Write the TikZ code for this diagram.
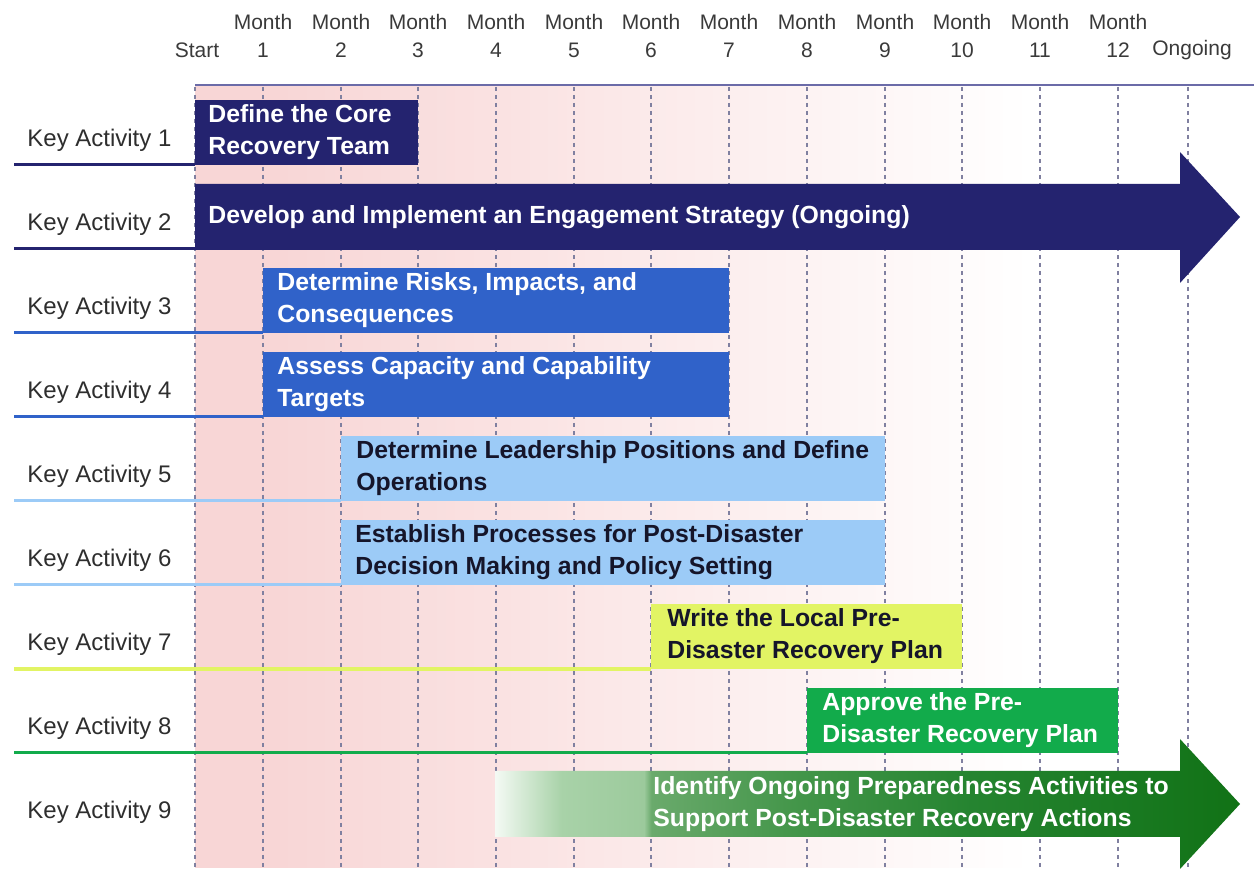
\documentclass[tikz,border=0pt]{standalone}
\usepackage{fontspec}
\setmainfont{Liberation Sans}
\definecolor{navy}{HTML}{24236F}
\definecolor{midblue}{HTML}{3062C9}
\definecolor{lblue}{HTML}{9CCBF7}
\definecolor{ygreen}{HTML}{E2F464}
\definecolor{green}{HTML}{12AB4B}
\definecolor{pinkbg}{HTML}{F8D6D6}
\definecolor{pinkmid}{HTML}{FBE8E8}
\definecolor{gridc}{HTML}{8080A0}
\definecolor{topc}{HTML}{6B6BA8}
\definecolor{hdrgray}{HTML}{3A3A3A}
\definecolor{labgray}{HTML}{2E2E2E}
\definecolor{darktext}{HTML}{15152A}
\definecolor{gA}{HTML}{F4FAF4}
\definecolor{gB}{HTML}{A8D2A8}
\definecolor{gB2}{HTML}{9CCA9C}
\definecolor{gC}{HTML}{6AAA6C}
\definecolor{gD}{HTML}{44964A}
\definecolor{gE}{HTML}{258430}
\definecolor{gF}{HTML}{117216}
\pgfdeclarehorizontalshading{greenfade}{100bp}{color(0bp)=(gA); color(25bp)=(gA); color(29.5bp)=(gB); color(35bp)=(gB2); color(35.5bp)=(gC); color(45bp)=(gD); color(57bp)=(gE); color(75bp)=(gF); color(100bp)=(gF)}
\pgfdeclarehorizontalshading{pinkfade}{100bp}{color(0bp)=(pinkbg); color(25bp)=(pinkbg); color(30bp)=(pinkbg); color(50bp)=(pinkmid); color(75bp)=(white); color(100bp)=(white)}
\begin{document}
\begin{tikzpicture}[x=0.5pt,y=-0.5pt,
  hdr/.style={font=\fontsize{10.5}{12}\selectfont, text=hdrgray, inner sep=0pt},
  keylab/.style={font=\fontsize{12}{14}\selectfont, text=labgray, anchor=west, inner sep=0pt},
  bar/.style={anchor=south west, minimum height=32.5pt, inner sep=0pt, draw=none},
  bartext/.style={anchor=west, align=left, inner sep=0pt, font=\fontsize{12.4}{16}\selectfont\bfseries},
  rowline/.style={line width=1.5pt},
  gridline/.style={draw=gridc, line width=0.8pt, dash pattern=on 2pt off 2pt},
]
\useasboundingbox (0,0) rectangle (1254,870);
% background
\shade[shading=pinkfade] (195,85) rectangle (1030,868);
% grid
\foreach \gx in {195,263,341,418,496,574,651,729,807,885,962,1040,1118,1188}
  \draw[gridline] (\gx,87) -- (\gx,868);
\draw[topc, line width=1.3pt] (195,85) -- (1254,85);
% header
\node[hdr] (h0) at (197,50) {Start};
\foreach \gx/\n in {263/1,341/2,418/3,496/4,574/5,651/6,729/7,807/8,885/9,962/10,1040/11,1118/12}{
  \node[hdr] (m\n) at (\gx,22) {Month};
  \node[hdr] (n\n) at (\gx,50) {\n};
}
\node[hdr] (hon) at (1192,50) {Ongoing};
% labels
\foreach \i/\ly in {1/140,2/224,3/308,4/392,5/476,6/560,7/644,8/728,9/812}
  \node[keylab] (k\i) at (27,\ly) {Key Activity \i};
% row 1
\node[bar, fill=navy, minimum width=111.5pt] (b1) at (195,165) {};
\node[bartext, text=white] (t1) at ([xshift=6.5pt]b1.west) {Define the Core\\Recovery Team};
\coordinate (s1) at (14,165);
\draw[rowline, navy] (s1) -- (b1.south west);
% row 2
\fill[navy] (195,184) -- (1180,184) -- (1180,152) -- (1240,217) -- (1180,283) -- (1180,250) -- (195,250) -- cycle;
\node[bartext, text=white] (t2) at (208,217) {Develop and Implement an Engagement Strategy (Ongoing)};
\coordinate (s2) at (14,249);
\coordinate (a2) at (195,249);
\draw[rowline, navy] (s2) -- (a2);
% row 3
\node[bar, fill=midblue, minimum width=233pt] (b3) at (263,333) {};
\node[bartext, text=white] (t3) at ([xshift=7pt]b3.west) {Determine Risks, Impacts, and\\Consequences};
\coordinate (s3) at (14,333);
\draw[rowline, midblue] (s3) -- (b3.south west);
% row 4
\node[bar, fill=midblue, minimum width=233pt] (b4) at (263,417) {};
\node[bartext, text=white] (t4) at ([xshift=7pt]b4.west) {Assess Capacity and Capability\\Targets};
\coordinate (s4) at (14,417);
\draw[rowline, midblue] (s4) -- (b4.south west);
% row 5
\node[bar, fill=lblue, minimum width=272pt] (b5) at (341,501) {};
\node[bartext, text=darktext] (t5) at ([xshift=7.5pt]b5.west) {Determine Leadership Positions and Define\\Operations};
\coordinate (s5) at (14,501);
\draw[rowline, lblue] (s5) -- (b5.south west);
% row 6
\node[bar, fill=lblue, minimum width=272pt] (b6) at (341,585) {};
\node[bartext, text=darktext] (t6) at ([xshift=7pt]b6.west) {Establish Processes for Post-Disaster\\Decision Making and Policy Setting};
\coordinate (s6) at (14,585);
\draw[rowline, lblue] (s6) -- (b6.south west);
% row 7
\node[bar, fill=ygreen, minimum width=155.5pt] (b7) at (651,669) {};
\node[bartext, text=darktext] (t7) at ([xshift=8pt]b7.west) {Write the Local Pre-\\Disaster Recovery Plan};
\coordinate (s7) at (14,669);
\draw[ygreen, line width=2pt] (s7) -- (b7.south west);
% row 8
\node[bar, fill=green, minimum width=155.5pt] (b8) at (807,753) {};
\node[bartext, text=white] (t8) at ([xshift=7.5pt]b8.west) {Approve the Pre-\\Disaster Recovery Plan};
\coordinate (s8) at (14,753);
\draw[rowline, green] (s8) -- (b8.south west);
% row 9
\shade[shading=greenfade] (495,771) -- (1180,771) -- (1180,739) -- (1240,804) -- (1180,869) -- (1180,837) -- (495,837) -- cycle;
\node[bartext, text=white] (t9) at (653,804) {Identify Ongoing Preparedness Activities to\\Support Post-Disaster Recovery Actions};
\end{tikzpicture}
\end{document}
